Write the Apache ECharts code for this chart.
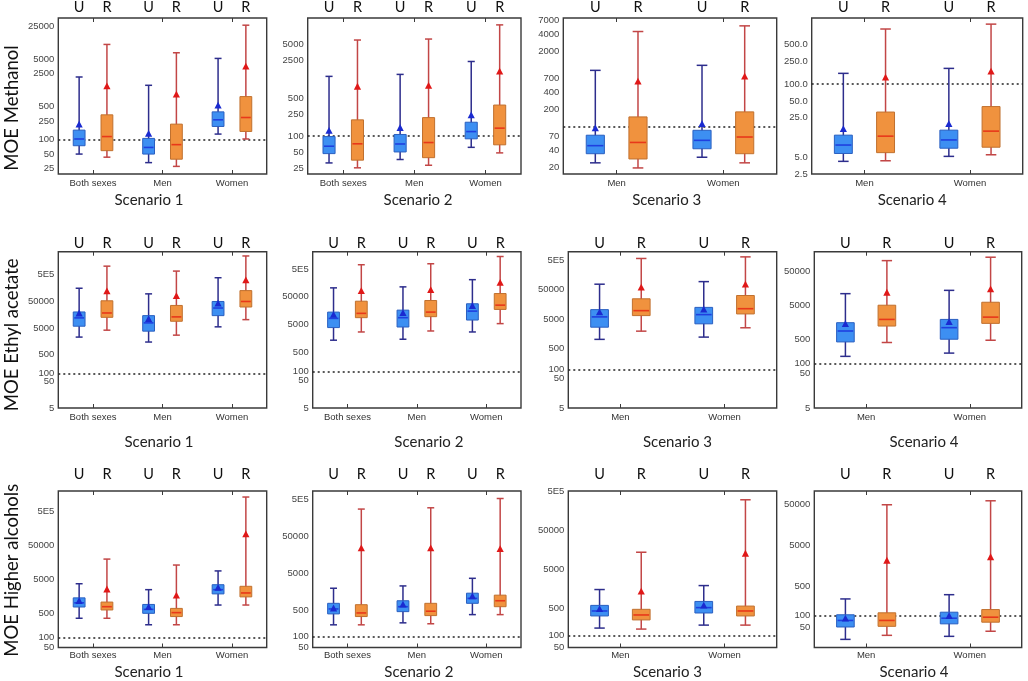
<!DOCTYPE html>
<html><head><meta charset="utf-8">
<script src="https://cdn.jsdelivr.net/npm/echarts@6/dist/echarts.min.js"></script>
<style>html,body{margin:0;padding:0;background:#fff}#c{width:1028px;height:681px}</style>
</head><body><div id="c"></div>
<script>
const groups3 = ['Both sexes', 'Men', 'Women'];
const groups2 = ['Men', 'Women'];
const scenarios = ['Scenario 1', 'Scenario 2', 'Scenario 3', 'Scenario 4'];
const compounds = ['MOE Methanol', 'MOE Ethyl acetate', 'MOE Higher alcohols'];
const boxLabels = ['U', 'R'];
const limitValue = 100;

// each box: [min, Q1, median, Q3, max, mean]; outer index = scenario, inner = group
const methanolU = [
  [[50, 75, 104, 160, 2110, 214], [33, 50, 69, 107, 1410, 136], [132, 191, 264, 388, 5200, 537]],
  [[32, 47.5, 65, 98, 1260, 127], [37, 51, 71.5, 107, 1370, 144], [62, 89, 121, 180, 2370, 245]],
  [[24, 34.5, 47.5, 72, 948, 96], [30, 42, 58.7, 87.5, 1158, 114]],
  [[4.2, 5.8, 8.2, 12.3, 155, 16.1], [5.15, 7.2, 10.1, 15.1, 190, 19.7]]
];
const methanolR = [
  [[43, 59, 117, 336, 10250, 1365], [27.5, 39, 79, 214, 6840, 914], [104, 150, 295, 815, 26100, 3590]],
  [[26, 36, 72, 199, 5890, 828], [29, 40, 76, 219, 6140, 863], [49, 69, 140, 373, 11200, 1575]],
  [[19.6, 28, 54, 149, 4440, 618], [24, 34.5, 67, 182, 5560, 755]],
  [[4.3, 6.0, 11.8, 31.7, 955, 133], [5.5, 7.5, 14.5, 39.7, 1167, 170]]
];
const ethylU = [
  [[2300, 5890, 12100, 20200, 157000, 18500], [1500, 3840, 7870, 14700, 96600, 11400], [5580, 14700, 28400, 50000, 390000, 43600]],
  [[1375, 3910, 8390, 14100, 105000, 11700], [1490, 4100, 8890, 16600, 114000, 13400], [2720, 7300, 15300, 28100, 207000, 24400]],
  [[1040, 2680, 5970, 10500, 75900, 8770], [1240, 3480, 7130, 12500, 92700, 11000]],
  [[163, 432, 902, 1580, 11200, 1480], [203, 518, 1130, 1970, 14000, 1690]]
];
const ethylR = [
  [[4180, 12700, 18500, 53100, 1060000, 125000], [2720, 9040, 13200, 35500, 692000, 83600], [10400, 31000, 50000, 128000, 2560000, 323000]],
  [[2720, 8890, 12700, 34800, 713000, 83900], [2950, 9660, 14100, 36900, 773000, 91200], [5430, 17600, 25100, 65600, 1410000, 166000]],
  [[1970, 6600, 9700, 24400, 561000, 60100], [2560, 7520, 11300, 31500, 635000, 75900]],
  [[415, 1260, 1970, 5140, 104000, 12300], [484, 1510, 2300, 6280, 131000, 15400]]
];
const higherU = [
  [[362, 776, 1030, 1440, 3750, 1205], [233, 506, 661, 923, 2510, 792], [887, 1885, 2510, 3510, 8930, 2940]],
  [[205, 405, 551, 782, 2000, 585], [232, 466, 634, 918, 2310, 748], [387, 782, 1064, 1470, 3710, 1250]],
  [[157, 321, 430, 598, 1520, 494], [187, 382, 524, 755, 1920, 610]],
  [[26, 52, 75, 103, 250, 85], [30.8, 62, 85, 119, 317, 99]]
];
const higherR = [
  [[362, 635, 792, 1084, 19900, 2630], [233, 406, 530, 706, 13300, 1730], [887, 1540, 2010, 3150, 1330000, 110000]],
  [[205, 343, 430, 718, 276000, 24600], [219, 364, 478, 782, 299000, 24600], [387, 634, 918, 1300, 533000, 23500]],
  [[148, 254, 340, 474, 13700, 1377], [187, 321, 430, 574, 301000, 12900]],
  [[32.6, 54, 75, 115, 48600, 2180], [41, 68, 90, 138, 60700, 2650]]
];

// y tick labels per panel
const methanolTicks = [
  [25, 50, 100, 250, 500, 2500, 5000, 25000],
  [25, 50, 100, 250, 500, 2500, 5000],
  [20, 40, 70, 200, 400, 700, 2000, 4000, 7000],
  [2.5, 5, 25, 50, 100, 250, 500]
];
const ethylTicks = [
  [5, 50, 100, 500, 5000, 50000, 500000],
  [5, 50, 100, 500, 5000, 50000, 500000],
  [5, 50, 100, 500, 5000, 50000, 500000],
  [5, 50, 100, 500, 5000, 50000]
];
const higherTicks = [
  [50, 100, 500, 5000, 50000, 500000],
  [50, 100, 500, 5000, 50000, 500000],
  [50, 100, 500, 5000, 50000, 500000],
  [50, 100, 500, 5000, 50000]
];
// y axis extents per panel
const methanolRange = [[19, 37000], [20, 15000], [15.4, 7600], [2.5, 1500]];
const ethylRange = [[5, 3.7e6], [5, 2.1e6], [5, 9.5e5], [5, 1.9e5]];
const higherRange = [[50, 2.0e6], [50, 8.5e5], [50, 5.05e5], [16.5, 1.05e5]];

const uData = [methanolU, ethylU, higherU];
const rData = [methanolR, ethylR, higherR];
const ticksAll = [methanolTicks, ethylTicks, higherTicks];
const rangeAll = [methanolRange, ethylRange, higherRange];

// ---------- layout & style ----------
const rowY = [[17.5, 174], [251.7, 408], [491, 647.5]];
const colX = [
  [[58.3, 266.7], [307.7, 521], [563.3, 776.7], [811.7, 1022.7]],
  [[58.3, 266.7], [312.7, 521], [568.3, 776.7], [814.3, 1021.7]],
  [[58.3, 266.7], [312.7, 521], [568.3, 776.7], [814.3, 1021.7]]
];
const topLabelMargin = [3, 1, 9];
const bottomLabelMargin = [4, 4, 3];
const scenGap = [19, 27, 17.5];
const scenShift = [[-13.5, 3.7, -3.3, -5], [-3.5, 12, 5, 6], [-13.5, 2, -5, -4]];
const rowTitleShift = [12, 5, 1];

const styles = [
  { fill: '#3d8ff2', border: '#2a5fc0', median: '#1f3fe0', whisker: '#2d2d8c', mean: '#1a2ad0' },
  { fill: '#f0923e', border: '#c0702e', median: '#e8381a', whisker: '#c24646', mean: '#e01818' }
];

function makeRender(kind) {
  const st = styles[kind];
  return function (params, api) {
    const cat = api.value(0);
    const band = api.size([1, 1])[0];
    const off = (kind === 0 ? -1 : 1) * 0.2 * band;
    const bw = 0.17 * band, cw = 0.1 * band;
    const y = v => api.coord([cat, v])[1];
    const x = api.coord([cat, api.value(3)])[0] + off;
    const yMin = y(api.value(1)), yQ1 = y(api.value(2)), yMed = y(api.value(3));
    const yQ3 = y(api.value(4)), yMax = y(api.value(5)), yMean = y(api.value(6));
    const tw = 3.6, th = 3.4;
    return {
      type: 'group',
      children: [
        { type: 'line', shape: { x1: x, y1: yMax, x2: x, y2: yMin }, style: { stroke: st.whisker, lineWidth: 1.5 } },
        { type: 'line', shape: { x1: x - cw / 2, y1: yMax, x2: x + cw / 2, y2: yMax }, style: { stroke: st.whisker, lineWidth: 1.5 } },
        { type: 'line', shape: { x1: x - cw / 2, y1: yMin, x2: x + cw / 2, y2: yMin }, style: { stroke: st.whisker, lineWidth: 1.5 } },
        { type: 'rect', shape: { x: x - bw / 2, y: yQ3, width: bw, height: yQ1 - yQ3 }, style: { fill: st.fill, stroke: st.border, lineWidth: 1 } },
        { type: 'line', shape: { x1: x - bw / 2 + 1, y1: yMed, x2: x + bw / 2 - 1, y2: yMed }, style: { stroke: st.median, lineWidth: 1.6 } },
        { type: 'polygon', shape: { points: [[x, yMean - th], [x - tw, yMean + th], [x + tw, yMean + th]] }, style: { fill: st.mean } }
      ]
    };
  };
}

function fmtTick(r, c) {
  return function (v) {
    if (r === 0 && c === 3) return Number(v).toFixed(1);
    if (Math.abs(v - 500000) < 1) return '5E5';
    return String(Math.round(v));
  };
}

const grid = [], xAxis = [], yAxis = [], series = [];
for (let r = 0; r < 3; r++) {
  for (let c = 0; c < 4; c++) {
    const g = grid.length;
    const [l, rr] = colX[r][c];
    const [t, b] = rowY[r];
    const w = rr - l;
    const cats = c < 2 ? groups3 : groups2;
    const band = w / cats.length;
    grid.push({ left: l, top: t, width: w, height: b - t, show: true, borderColor: '#3a3a3a', borderWidth: 1.4, backgroundColor: 'transparent' });
    const sh = scenShift[r][c];
    xAxis.push({
      type: 'category', gridIndex: g, data: cats, position: 'bottom',
      axisLine: { show: false },
      axisTick: { show: true, inside: true, alignWithLabel: true, length: 4, lineStyle: { color: '#3a3a3a' } },
      axisLabel: { fontSize: 9.5, color: '#333', margin: bottomLabelMargin[r], fontFamily: 'Liberation Sans' },
      name: scenarios[c], nameLocation: 'middle', nameGap: scenGap[r],
      nameTextStyle: { fontSize: 15, color: '#222', fontFamily: 'Lato', padding: sh > 0 ? [0, 0, 0, 2 * sh] : [0, -2 * sh, 0, 0] }
    });
    const lw = 0.4 * band;
    xAxis.push({
      type: 'category', gridIndex: g, data: cats, position: 'top',
      axisLine: { show: false },
      axisTick: { show: true, inside: true, alignWithLabel: true, length: 4, lineStyle: { color: '#3a3a3a' } },
      axisLabel: {
        margin: topLabelMargin[r],
        formatter: () => '{u|' + boxLabels[0] + '}{r|' + boxLabels[1] + '}',
        rich: {
          u: { width: lw, align: 'center', fontSize: 14.5, color: '#111', fontFamily: 'Lato' },
          r: { width: lw, align: 'center', fontSize: 14.5, color: '#111', fontFamily: 'Lato' }
        }
      }
    });
    const ya = {
      type: 'log', logBase: 10, gridIndex: g,
      min: rangeAll[r][c][0], max: rangeAll[r][c][1],
      axisLine: { show: false },
      axisTick: { show: false },
      splitLine: { show: false },
      minorTick: { show: false },
      axisLabel: { customValues: ticksAll[r][c], formatter: fmtTick(r, c), fontSize: 9.5, color: '#444', margin: 4, fontFamily: 'Liberation Sans' }
    };
    if (c === 0) {
      const d = rowTitleShift[r];
      Object.assign(ya, {
        name: compounds[r], nameLocation: 'middle', nameGap: 37, nameRotate: 90,
        nameTextStyle: { fontSize: 18.5, color: '#111', fontFamily: 'Lato', padding: [0, 2 * d, 0, 0] }
      });
    }
    yAxis.push(ya);
    series.push({
      type: 'scatter', xAxisIndex: 2 * g, yAxisIndex: g, data: [], silent: true,
      markLine: {
        silent: true, symbol: ['none', 'none'], label: { show: false }, z: 1,
        lineStyle: { type: [2, 3], color: '#222', width: 1.5 },
        data: [{ yAxis: limitValue }]
      }
    });
    [uData, rData].forEach((src, kind) => {
      series.push({
        type: 'custom', name: boxLabels[kind], xAxisIndex: 2 * g, yAxisIndex: g, z: 3,
        renderItem: makeRender(kind),
        encode: { x: 0, y: [1, 2, 3, 4, 5, 6] },
        data: src[r][c].map((b, i) => [i].concat(b))
      });
    });
  }
}

const chart = echarts.init(document.getElementById('c'), null, { renderer: 'canvas' });
chart.setOption({
  animation: false,
  backgroundColor: '#fff',
  textStyle: { fontFamily: 'Liberation Sans' },
  grid, xAxis, yAxis, series
});
</script></body></html>
